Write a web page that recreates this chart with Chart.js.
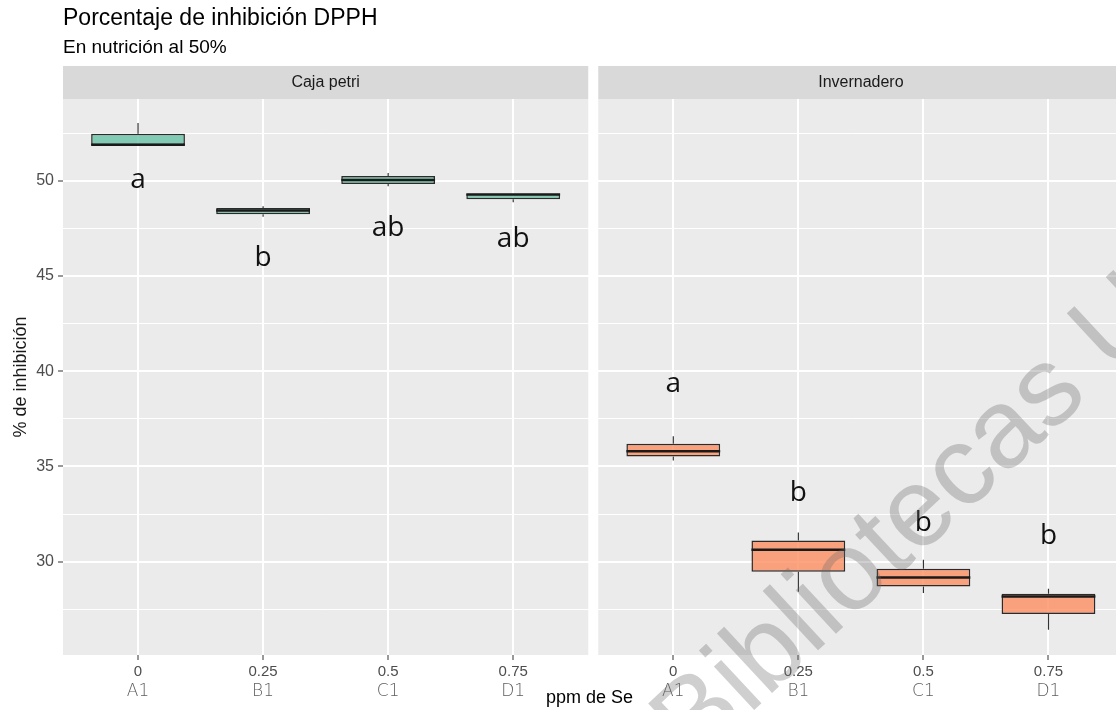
<!DOCTYPE html>
<html>
<head>
<meta charset="utf-8">
<script src="https://cdn.jsdelivr.net/npm/chart.js@4/dist/chart.umd.min.js"></script>
<style>
  html, body { margin: 0; padding: 0; background: #ffffff; }
  #wrap { position: relative; width: 1116px; height: 710px; }
</style>
</head>
<body>
<div id="wrap"><canvas id="c" width="1116" height="710"></canvas></div>
<script>
// Facets, treatments and Se doses
const facets = ['Caja petri', 'Invernadero'];
const groups = ['A1', 'B1', 'C1', 'D1'];
const doses = ['0', '0.25', '0.5', '0.75'];

// Box statistics (% inhibición DPPH): lower whisker, Q1, median, Q3, upper whisker
const petriLow  = [51.89, 48.12, 49.72, 48.88];
const petriQ1   = [51.89, 48.25, 49.84, 49.04];
const petriMed  = [51.90, 48.45, 50.05, 49.29];
const petriQ3   = [52.47, 48.58, 50.25, 49.32];
const petriHigh = [53.04, 48.67, 50.42, 49.32];

const invLow  = [35.32, 28.42, 28.35, 26.42];
const invQ1   = [35.53, 29.47, 28.70, 27.25];
const invMed  = [35.80, 30.63, 29.17, 28.17];
const invQ3   = [36.19, 31.11, 29.63, 28.32];
const invHigh = [36.59, 31.54, 30.10, 28.58];

// Tukey group letters and the height at which each sits
const petriLetters = ['a', 'b', 'ab', 'ab'];
const invLetters   = ['a', 'b', 'b', 'b'];
const petriLetterY = [49.62, 45.54, 47.12, 46.51];
const invLetterY   = [38.89, 33.17, 31.59, 30.95];

// y-axis breaks
const yMajor = [30, 35, 40, 45, 50];
const yMinor = [27.5, 32.5, 37.5, 42.5, 47.5, 52.5];

// ---- facet geometry on a shared linear x axis ----
const PANEL_EXPAND = 0.6;              // discrete-scale expansion on each side
const PANEL_GAP = 0.08;                // spacing between facet panels
const PANEL_SPAN = (groups.length - 1) + 2 * PANEL_EXPAND + PANEL_GAP;
const xPos = (f, i) => f * PANEL_SPAN + i + 1;
const X_MIN = 1 - PANEL_EXPAND;
const X_MAX = 8.82;

const stats = [
  { low: petriLow, q1: petriQ1, med: petriMed, q3: petriQ3, high: petriHigh, letters: petriLetters, letterY: petriLetterY },
  { low: invLow, q1: invQ1, med: invMed, q3: invQ3, high: invHigh, letters: invLetters, letterY: invLetterY }
];

const tickPositions = [];
const doseTickLabels = [];
const groupTickLabels = [];
facets.forEach((f, fi) => groups.forEach((g, i) => {
  tickPositions.push(xPos(fi, i));
  doseTickLabels.push(doses[i]);
  groupTickLabels.push(g);
}));

const fills = ['rgba(102,194,165,0.8)', 'rgba(252,141,98,0.8)'];

const datasets = stats.map((s, fi) => ({
  label: facets[fi],
  xAxisID: 'x',
  yAxisID: 'y',
  data: groups.map((g, i) => ({ x: xPos(fi, i), y: [s.q1[i], s.q3[i]] })),
  backgroundColor: fills[fi],
  borderColor: '#2b2b2b',
  borderWidth: 1.5,
  borderSkipped: false,
  grouped: false,
  barPercentage: 0.75,
  categoryPercentage: 1
}));

// Panel backgrounds, strips and headings
const facetFrame = {
  id: 'facetFrame',
  beforeDraw(chart) {
    const { ctx, chartArea, scales } = chart;
    const xs = scales.x;
    ctx.save();
    facets.forEach((name, fi) => {
      const l = xs.getPixelForValue(fi * PANEL_SPAN + X_MIN);
      const r = xs.getPixelForValue(fi * PANEL_SPAN + groups.length + PANEL_EXPAND);
      ctx.fillStyle = '#ebebeb';
      ctx.fillRect(l, chartArea.top, r - l, chartArea.bottom - chartArea.top);
      ctx.fillStyle = '#d9d9d9';
      ctx.fillRect(l, chartArea.top - 33, r - l, 33);
      ctx.fillStyle = '#1a1a1a';
      ctx.font = '16px "Liberation Sans", Arial, sans-serif';
      ctx.textAlign = 'center';
      ctx.textBaseline = 'middle';
      ctx.fillText(name, (l + r) / 2, chartArea.top - 16);
    });
    ctx.textAlign = 'left';
    ctx.textBaseline = 'alphabetic';
    ctx.fillStyle = '#000000';
    ctx.font = '23px "Liberation Sans", Arial, sans-serif';
    ctx.fillText('Porcentaje de inhibición DPPH', chartArea.left, 25);
    ctx.font = '19px "Liberation Sans", Arial, sans-serif';
    ctx.fillText('En nutrición al 50%', chartArea.left, 53);
    ctx.restore();
  }
};

// Whiskers, medians and group letters
const boxDetails = {
  id: 'boxDetails',
  afterDatasetsDraw(chart) {
    const { ctx, scales } = chart;
    const xs = scales.x, ys = scales.y;
    ctx.save();
    stats.forEach((s, fi) => {
      const meta = chart.getDatasetMeta(fi);
      groups.forEach((g, i) => {
        const bar = meta.data[i];
        const cx = xs.getPixelForValue(xPos(fi, i));
        const half = bar.width / 2;
        ctx.strokeStyle = '#333333';
        ctx.lineWidth = 1.2;
        ctx.beginPath();
        if (s.low[i] < s.q1[i]) {
          ctx.moveTo(cx, ys.getPixelForValue(s.low[i]));
          ctx.lineTo(cx, ys.getPixelForValue(s.q1[i]));
        }
        if (s.high[i] > s.q3[i]) {
          ctx.moveTo(cx, ys.getPixelForValue(s.q3[i]));
          ctx.lineTo(cx, ys.getPixelForValue(s.high[i]));
        }
        ctx.stroke();
        ctx.strokeStyle = '#1a1a1a';
        ctx.lineWidth = 2.5;
        ctx.beginPath();
        const my = ys.getPixelForValue(s.med[i]);
        ctx.moveTo(cx - half, my);
        ctx.lineTo(cx + half, my);
        ctx.stroke();

        ctx.fillStyle = '#111111';
        ctx.font = '28px "Open Sans", sans-serif';
        ctx.textAlign = 'center';
        ctx.textBaseline = 'alphabetic';
        ctx.fillText(s.letters[i], cx, ys.getPixelForValue(s.letterY[i]));
      });
    });
    ctx.restore();
  },
  afterDraw(chart) {
    const { ctx } = chart;
    ctx.save();
    ctx.translate(694, 766);
    ctx.rotate(-43 * Math.PI / 180);
    ctx.fillStyle = 'rgba(105,105,105,0.32)';
    ctx.font = '112px "Liberation Sans", Arial, sans-serif';
    ctx.textAlign = 'left';
    ctx.textBaseline = 'alphabetic';
    ctx.fillText('Bibliotecas U', 0, 0);
    ctx.restore();
  }
};

new Chart(document.getElementById('c'), {
  type: 'bar',
  data: { datasets },
  options: {
    responsive: false,
    animation: false,
    layout: { padding: { top: 99, left: 0, right: 0, bottom: 0 } },
    plugins: { legend: { display: false }, tooltip: { enabled: false }, title: { display: false } },
    scales: {
      x: {
        type: 'linear', position: 'bottom', min: X_MIN, max: X_MAX, offset: false,
        afterBuildTicks: s => { s.ticks = tickPositions.map(v => ({ value: v })); },
        afterFit: s => { s.height = 26; },
        grid: { offset: false, color: '#ffffff', lineWidth: 2, drawTicks: true, tickLength: 5, tickColor: '#333333', tickWidth: 1 },
        border: { display: false },
        ticks: {
          autoSkip: false, maxRotation: 0, padding: 3,
          callback: (v, i) => doseTickLabels[i],
          font: { family: '"Liberation Sans", Arial, sans-serif', size: 15 },
          color: '#4d4d4d'
        }
      },
      x2: {
        type: 'linear', position: 'bottom', min: X_MIN, max: X_MAX, offset: false,
        afterBuildTicks: s => { s.ticks = tickPositions.map(v => ({ value: v })); },
        afterFit: s => { s.height = 29; },
        grid: { display: false, drawTicks: false, offset: false },
        border: { display: false },
        ticks: {
          autoSkip: false, maxRotation: 0, padding: 0,
          callback: (v, i) => groupTickLabels[i],
          font: { family: '"DejaVu Sans", sans-serif', size: 17, weight: '200' },
          color: '#5e5e5e'
        },
        title: {
          display: true, text: 'ppm de Se', color: '#000000',
          font: { family: '"Liberation Sans", Arial, sans-serif', size: 18 },
          padding: { top: 0, bottom: 1 }
        }
      },
      y: {
        type: 'linear', position: 'left', min: 25.1, max: 54.3,
        afterBuildTicks: s => { s.ticks = [...yMinor, ...yMajor].sort((a, b) => a - b).map(v => ({ value: v })); },
        afterFit: s => { s.width = 63; },
        grid: {
          color: '#ffffff',
          lineWidth: c => (c.tick && yMajor.includes(c.tick.value)) ? 2 : 1,
          tickLength: 5,
          tickColor: c => (c.tick && yMajor.includes(c.tick.value)) ? '#333333' : 'rgba(0,0,0,0)',
          tickWidth: 1
        },
        border: { display: false },
        ticks: {
          padding: 4,
          callback: v => yMajor.includes(v) ? String(v) : '',
          font: { family: '"Liberation Sans", Arial, sans-serif', size: 16 },
          color: '#4d4d4d'
        },
        title: {
          display: true, text: '% de inhibición', color: '#1a1a1a',
          font: { family: '"Liberation Sans", Arial, sans-serif', size: 18 },
          padding: { top: 10, bottom: 0 }
        }
      }
    }
  },
  plugins: [facetFrame, boxDetails]
});
</script>
</body>
</html>
